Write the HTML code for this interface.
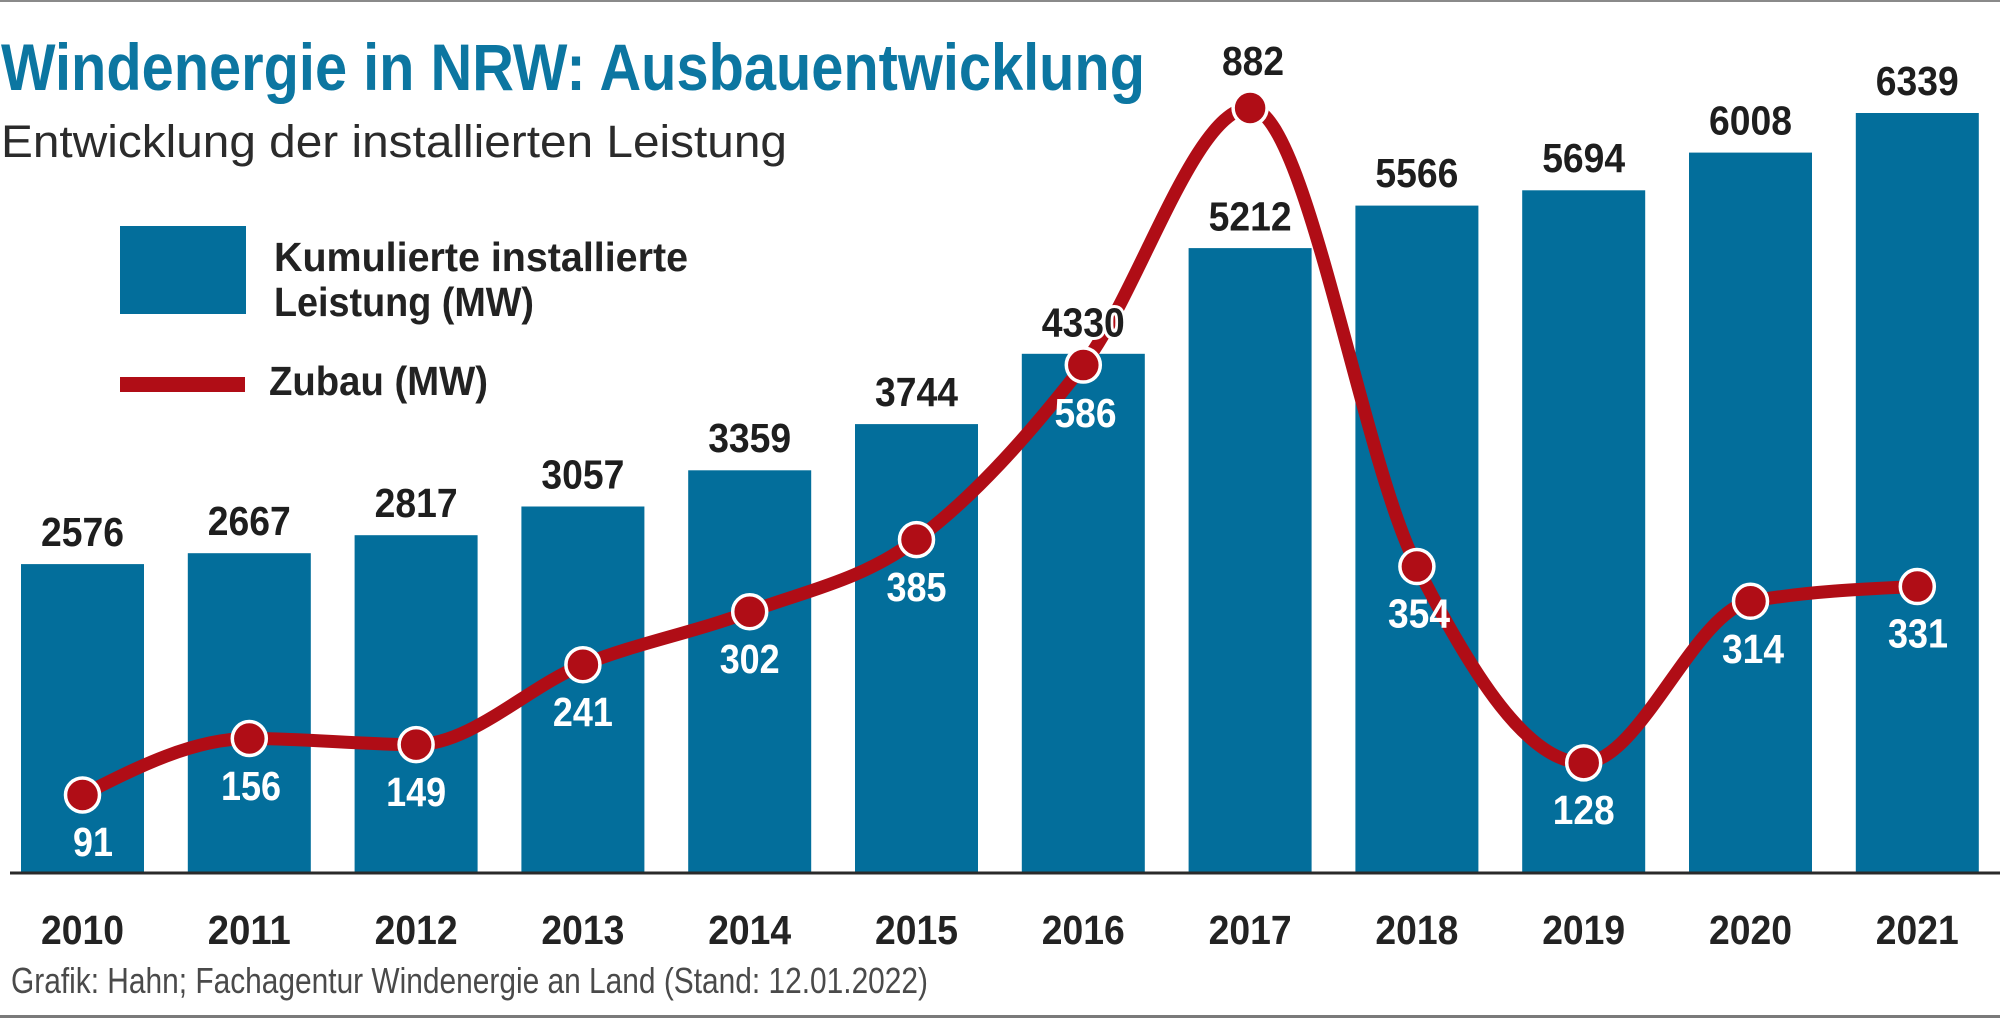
<!DOCTYPE html>
<html>
<head>
<meta charset="utf-8">
<style>
  html,body{margin:0;padding:0;background:#fff;}
  svg{display:block;}
  text{font-family:"Liberation Sans", "DejaVu Sans", sans-serif;}
</style>
</head>
<body>
<svg width="2000" height="1018" viewBox="0 0 2000 1018" xmlns="http://www.w3.org/2000/svg">
  <rect x="0" y="0" width="2000" height="1018" fill="#ffffff"/>
  <!-- frame lines -->
  <rect x="0" y="0" width="2000" height="2" fill="#8a8a8a"/>
  <rect x="0" y="1015" width="2000" height="3" fill="#7a7a7a"/>

  <!-- title -->
  <text x="1" y="90" font-size="66" font-weight="bold" fill="#0c76a1" textLength="1144" lengthAdjust="spacingAndGlyphs">Windenergie in NRW: Ausbauentwicklung</text>
  <text x="1" y="157" font-size="45" fill="#2b2b2b" textLength="786" lengthAdjust="spacingAndGlyphs">Entwicklung der installierten Leistung</text>

  <!-- legend -->
  <rect x="120" y="226" width="126" height="88" fill="#036e9b"/>
  <text x="274" y="271" font-size="41" font-weight="bold" fill="#222" textLength="414" lengthAdjust="spacingAndGlyphs">Kumulierte installierte</text>
  <text x="274" y="316" font-size="41" font-weight="bold" fill="#222" textLength="260" lengthAdjust="spacingAndGlyphs">Leistung (MW)</text>
  <rect x="120" y="377" width="125" height="15" fill="#b00d16"/>
  <text x="269" y="395" font-size="41" font-weight="bold" fill="#222" textLength="219" lengthAdjust="spacingAndGlyphs">Zubau (MW)</text>

  <!-- bars -->
  <g fill="#036e9b">
    <rect x="21.0" y="564.1" width="123" height="308.9"/>
    <rect x="187.8" y="553.2" width="123" height="319.8"/>
    <rect x="354.6" y="535.2" width="123" height="337.8"/>
    <rect x="521.4" y="506.5" width="123" height="366.5"/>
    <rect x="688.2" y="470.3" width="123" height="402.7"/>
    <rect x="855.0" y="424.1" width="123" height="448.9"/>
    <rect x="1021.8" y="353.8" width="123" height="519.2"/>
    <rect x="1188.6" y="248.1" width="123" height="624.9"/>
    <rect x="1355.4" y="205.6" width="123" height="667.4"/>
    <rect x="1522.2" y="190.3" width="123" height="682.7"/>
    <rect x="1689.0" y="152.6" width="123" height="720.4"/>
    <rect x="1855.8" y="113.0" width="123" height="760.0"/>
  </g>

  <!-- axis -->
  <rect x="10" y="871.5" width="1990" height="3" fill="#2a2a2a"/>

  <!-- year labels -->
  <g font-size="41" font-weight="bold" fill="#232323" text-anchor="middle">
    <text x="82.5" y="944" textLength="83" lengthAdjust="spacingAndGlyphs">2010</text>
    <text x="249.3" y="944" textLength="83" lengthAdjust="spacingAndGlyphs">2011</text>
    <text x="416.1" y="944" textLength="83" lengthAdjust="spacingAndGlyphs">2012</text>
    <text x="582.9" y="944" textLength="83" lengthAdjust="spacingAndGlyphs">2013</text>
    <text x="749.7" y="944" textLength="83" lengthAdjust="spacingAndGlyphs">2014</text>
    <text x="916.5" y="944" textLength="83" lengthAdjust="spacingAndGlyphs">2015</text>
    <text x="1083.3" y="944" textLength="83" lengthAdjust="spacingAndGlyphs">2016</text>
    <text x="1250.1" y="944" textLength="83" lengthAdjust="spacingAndGlyphs">2017</text>
    <text x="1416.9" y="944" textLength="83" lengthAdjust="spacingAndGlyphs">2018</text>
    <text x="1583.7" y="944" textLength="83" lengthAdjust="spacingAndGlyphs">2019</text>
    <text x="1750.5" y="944" textLength="83" lengthAdjust="spacingAndGlyphs">2020</text>
    <text x="1917.3" y="944" textLength="83" lengthAdjust="spacingAndGlyphs">2021</text>
  </g>

  <!-- red line -->
  <path d="M82.5,794.97 C138.1,766.74 193.7,738.51 249.3,738.51 C304.9,738.51 360.5,744.59 416.1,744.59 C471.7,744.59 527.3,686.84 582.9,664.69 C638.5,642.54 694.1,632.56 749.7,611.71 C805.3,590.87 860.9,580.73 916.5,539.63 C972.1,498.52 1027.7,437.00 1083.3,365.06 C1138.9,293.12 1194.5,107.98 1250.1,107.98 C1305.7,107.98 1361.3,457.41 1416.9,566.55 C1472.5,675.70 1528.1,762.83 1583.7,762.83 C1639.3,762.83 1694.9,611.13 1750.5,601.29 C1806.1,591.45 1861.7,588.98 1917.3,586.53" fill="none" stroke="#b00d16" stroke-width="13" stroke-linecap="round" stroke-linejoin="round"/>

  <!-- markers -->
  <g fill="#b00d16" stroke="#ffffff" stroke-width="3.5">
    <circle cx="82.5" cy="794.97" r="17"/>
    <circle cx="249.3" cy="738.51" r="17"/>
    <circle cx="416.1" cy="744.59" r="17"/>
    <circle cx="582.9" cy="664.69" r="17"/>
    <circle cx="749.7" cy="611.71" r="17"/>
    <circle cx="916.5" cy="539.63" r="17"/>
    <circle cx="1083.3" cy="365.06" r="17"/>
    <circle cx="1250.1" cy="107.98" r="17"/>
    <circle cx="1416.9" cy="566.55" r="17"/>
    <circle cx="1583.7" cy="762.83" r="17"/>
    <circle cx="1750.5" cy="601.29" r="17"/>
    <circle cx="1917.3" cy="586.53" r="17"/>
  </g>

  <!-- bar value labels -->
  <g font-size="41" font-weight="bold" fill="#1e1e1e" text-anchor="middle" stroke="#ffffff" stroke-width="6" paint-order="stroke" stroke-linejoin="round">
    <text x="82.5" y="546" textLength="83" lengthAdjust="spacingAndGlyphs">2576</text>
    <text x="249.3" y="535" textLength="83" lengthAdjust="spacingAndGlyphs">2667</text>
    <text x="416.1" y="517" textLength="83" lengthAdjust="spacingAndGlyphs">2817</text>
    <text x="582.9" y="488.5" textLength="83" lengthAdjust="spacingAndGlyphs">3057</text>
    <text x="749.7" y="452" textLength="83" lengthAdjust="spacingAndGlyphs">3359</text>
    <text x="916.5" y="406" textLength="83" lengthAdjust="spacingAndGlyphs">3744</text>
    <text x="1083.3" y="336.5" textLength="83" lengthAdjust="spacingAndGlyphs">4330</text>
    <text x="1250.1" y="230.5" textLength="83" lengthAdjust="spacingAndGlyphs">5212</text>
    <text x="1416.9" y="187" textLength="83" lengthAdjust="spacingAndGlyphs">5566</text>
    <text x="1583.7" y="172" textLength="83" lengthAdjust="spacingAndGlyphs">5694</text>
    <text x="1750.5" y="134.5" textLength="83" lengthAdjust="spacingAndGlyphs">6008</text>
    <text x="1917.3" y="95" textLength="83" lengthAdjust="spacingAndGlyphs">6339</text>
    <text x="1253" y="75" textLength="62" lengthAdjust="spacingAndGlyphs">882</text>
  </g>

  <!-- zubau labels (white) -->
  <g font-size="41" font-weight="bold" fill="#ffffff" text-anchor="middle">
    <text x="93" y="856" textLength="40" lengthAdjust="spacingAndGlyphs">91</text>
    <text x="251" y="800" textLength="60" lengthAdjust="spacingAndGlyphs">156</text>
    <text x="416.1" y="806" textLength="60" lengthAdjust="spacingAndGlyphs">149</text>
    <text x="582.9" y="726" textLength="60" lengthAdjust="spacingAndGlyphs">241</text>
    <text x="749.7" y="673" textLength="60" lengthAdjust="spacingAndGlyphs">302</text>
    <text x="916.5" y="601" textLength="60" lengthAdjust="spacingAndGlyphs">385</text>
    <text x="1085.5" y="427" textLength="62" lengthAdjust="spacingAndGlyphs">586</text>
    <text x="1419" y="627.5" textLength="62" lengthAdjust="spacingAndGlyphs">354</text>
    <text x="1583.7" y="824" textLength="62" lengthAdjust="spacingAndGlyphs">128</text>
    <text x="1753" y="663" textLength="62" lengthAdjust="spacingAndGlyphs">314</text>
    <text x="1918" y="647.5" textLength="60" lengthAdjust="spacingAndGlyphs">331</text>
  </g>

  <!-- footer -->
  <text x="11" y="993" font-size="36" fill="#4a4a4a" textLength="917" lengthAdjust="spacingAndGlyphs">Grafik: Hahn; Fachagentur Windenergie an Land (Stand: 12.01.2022)</text>
</svg>
</body>
</html>
